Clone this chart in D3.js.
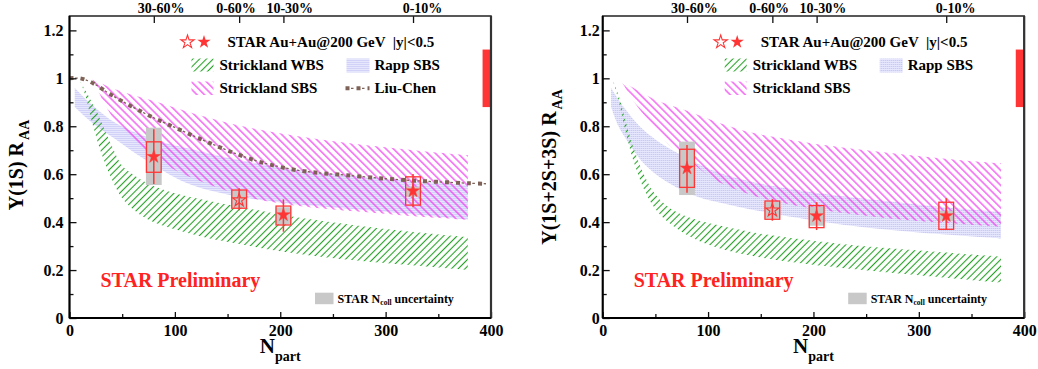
<!DOCTYPE html>
<html>
<head>
<meta charset="utf-8">
<script src="https://cdn.jsdelivr.net/npm/d3@7"></script>
<style>
  body { margin: 0; background: #fff; }
  text { font-family: "Liberation Serif", "Times New Roman", serif; font-weight: bold; }
</style>
</head>
<body>
<div id="chart"></div>
<script>
// ---- data ----
var nPart = [80, 161, 203, 326];
var centClass = ["30-60%", "0-60%", "10-30%", "0-10%"];
var centLabelN = [87, 158, 209, 335];
var isOpen = [false, true, false, false];
var globalUnc = [0.88, 1.12];

// Upsilon(1S)
var raa1S = [0.673, 0.492, 0.430, 0.530];
var stat1S = [[0.559, 0.787], [0.450, 0.541], [0.360, 0.495], [0.462, 0.601]];
var sys1S = [[0.608, 0.735], [0.458, 0.534], [0.388, 0.467], [0.471, 0.589]];
var ncoll1S = [[0.555, 0.794], [0.460, 0.532], [0.390, 0.462], [0.506, 0.548]];

// Upsilon(1S+2S+3S)
var raaAll = [0.625, 0.450, 0.426, 0.426];
var statAll = [[0.523, 0.722], [0.406, 0.496], [0.367, 0.483], [0.367, 0.500]];
var sysAll = [[0.545, 0.704], [0.412, 0.488], [0.377, 0.469], [0.370, 0.483]];
var ncollAll = [[0.513, 0.736], [0.415, 0.485], [0.385, 0.464], [0.405, 0.447]];

// model bands, [Npart, RAA]
var rapp1SUp = [[5,0.96],[20,0.895],[45,0.81],[80,0.745],[115,0.705],[160,0.66],[220,0.615],[280,0.588],[330,0.57],[378,0.556]];
var rapp1SLo = [[5,0.88],[20,0.82],[44,0.745],[72,0.66],[110,0.565],[150,0.515],[200,0.482],[240,0.465],[300,0.443],[378,0.41]];
var wbs1SUp = [[10,0.99],[15,0.95],[20,0.91],[25,0.87],[30,0.82],[40,0.72],[50,0.635],[60,0.60],[75,0.56],[100,0.52],[130,0.49],[160,0.465],[200,0.432],[240,0.405],[280,0.382],[320,0.362],[378,0.337]];
var wbs1SLo = [[10,0.99],[15,0.93],[20,0.84],[25,0.76],[30,0.69],[40,0.58],[50,0.50],[60,0.455],[75,0.41],[100,0.37],[130,0.335],[160,0.31],[200,0.278],[240,0.255],[280,0.237],[320,0.222],[378,0.20]];
var sbs1SUp = [[22,0.995],[40,0.96],[60,0.93],[80,0.905],[100,0.877],[120,0.85],[150,0.815],[180,0.786],[220,0.756],[260,0.732],[300,0.712],[340,0.694],[378,0.68]];
var sbs1SLo = [[22,0.995],[35,0.88],[45,0.81],[60,0.74],[80,0.672],[100,0.618],[120,0.578],[140,0.545],[165,0.508],[200,0.478],[240,0.457],[280,0.442],[320,0.427],[378,0.41]];
var liuChen = [[0,1.0],[10,1.0],[20,0.985],[40,0.93],[60,0.88],[80,0.835],[100,0.795],[120,0.755],[140,0.717],[160,0.682],[180,0.652],[200,0.63],[220,0.614],[240,0.604],[260,0.597],[280,0.589],[300,0.581],[320,0.575],[340,0.57],[360,0.566],[380,0.562],[397,0.56]];

var rappAllUp = [[8,0.96],[20,0.88],[35,0.80],[50,0.745],[70,0.69],[90,0.645],[110,0.607],[140,0.57],[180,0.537],[220,0.512],[260,0.492],[300,0.473],[340,0.456],[378,0.443]];
var rappAllLo = [[8,0.88],[15,0.80],[27,0.715],[40,0.64],[58,0.576],[90,0.506],[115,0.478],[150,0.445],[200,0.407],[240,0.383],[300,0.357],[378,0.332]];
var wbsAllUp = [[9,1.0],[15,0.93],[20,0.85],[25,0.77],[30,0.70],[40,0.59],[50,0.515],[65,0.455],[85,0.415],[110,0.387],[150,0.352],[200,0.322],[240,0.303],[300,0.282],[378,0.256]];
var wbsAllLo = [[9,1.0],[15,0.91],[20,0.81],[25,0.72],[30,0.645],[40,0.53],[50,0.455],[65,0.39],[85,0.335],[110,0.292],[150,0.252],[200,0.222],[240,0.203],[300,0.178],[378,0.147]];
var sbsAllUp = [[17,0.995],[30,0.957],[50,0.91],[80,0.865],[110,0.815],[140,0.775],[180,0.742],[210,0.722],[250,0.70],[300,0.676],[340,0.658],[378,0.645]];
var sbsAllLo = [[17,0.995],[30,0.90],[50,0.79],[66,0.71],[80,0.665],[105,0.58],[130,0.53],[160,0.49],[200,0.456],[240,0.432],[280,0.412],[330,0.395],[378,0.38]];

var yTicks = [0, 0.2, 0.4, 0.6, 0.8, 1, 1.2];
var yMinor = [0.1, 0.3, 0.5, 0.7, 0.9, 1.1];
var xTicks = [0, 100, 200, 300, 400];
var xMinor = [50, 150, 250, 350];

var red = "#ff3535";
var brown = "#7f6257";
var svg = d3.select("#chart").append("svg").attr("width", 1038).attr("height", 369);

// hatch patterns
var defs = svg.append("defs");
function hatch(id, angle, gap, color) {
  var p = defs.append("pattern").attr("id", id)
    .attr("patternUnits", "userSpaceOnUse")
    .attr("width", gap).attr("height", gap)
    .attr("patternTransform", "rotate(" + angle + ")");
  p.append("line").attr("x1", gap / 2).attr("y1", 0).attr("x2", gap / 2).attr("y2", gap)
    .attr("stroke", color).attr("stroke-width", 1.1);
}
hatch("wbs", 45, 4.8, "#25a025");
hatch("sbs", -45, 5.3, "#f030f0");
var rp = defs.append("pattern").attr("id", "rapp").attr("patternUnits", "userSpaceOnUse")
  .attr("width", 2).attr("height", 2);
rp.append("rect").attr("width", 2).attr("height", 2).attr("fill", "#e6e6fc");
rp.append("rect").attr("width", 1).attr("height", 1).attr("fill", "#bdbdf3");

function starPath(R) {
  var pts = [];
  for (var k = 0; k < 10; k++) {
    var a = -Math.PI / 2 + k * Math.PI / 5;
    var rr = k % 2 ? R * 0.382 : R;
    pts.push([rr * Math.cos(a), rr * Math.sin(a)]);
  }
  return "M" + pts.join("L") + "Z";
}

// Liu-Chen dash-dot: thin dashes plus square dots
function liuStyle(sel, thin) {
  if (thin) {
    sel.attr("stroke", brown).attr("stroke-width", 1.3).attr("stroke-dasharray", "0 5.5 2.5 3");
  } else {
    sel.attr("stroke", brown).attr("stroke-width", 4).attr("stroke-dasharray", "4 7");
  }
}

function drawPanel(p) {
  var width = 421.5, height = 302;
  var g = svg.append("g").attr("transform", "translate(" + p.left + ",16)");
  var x = d3.scaleLinear().domain([0, 400]).range([0, width]);
  var y = d3.scaleLinear().domain([0, 1.26]).range([height, 0]);

  var line = d3.line().x(function(d) { return x(d[0]); }).y(function(d) { return y(d[1]); })
    .curve(d3.curveCatmullRom);
  function band(up, lo) {
    return line(up) + "L" + line(lo.slice().reverse()).slice(1) + "Z";
  }

  // model bands
  g.append("path").attr("d", band(p.rappUp, p.rappLo)).attr("fill", "url(#rapp)");
  g.append("path").attr("d", band(p.wbsUp, p.wbsLo)).attr("fill", "url(#wbs)");
  g.append("path").attr("d", band(p.sbsUp, p.sbsLo)).attr("fill", "url(#sbs)");

  if (p.liu) {
    g.append("path").attr("d", line(p.liu)).attr("fill", "none").call(liuStyle, true);
    g.append("path").attr("d", line(p.liu)).attr("fill", "none").call(liuStyle, false);
  }

  // global uncertainty bar
  g.append("rect").attr("x", x(392)).attr("width", x(400) - x(392))
    .attr("y", y(globalUnc[1])).attr("height", y(globalUnc[0]) - y(globalUnc[1]))
    .attr("fill", red);

  // data points
  var pts = g.append("g");
  nPart.forEach(function(n, i) {
    pts.append("rect").attr("x", x(n - 7.5)).attr("width", x(15))
      .attr("y", y(p.ncoll[i][1])).attr("height", y(p.ncoll[i][0]) - y(p.ncoll[i][1]))
      .attr("fill", "#c8c8c8");
    pts.append("rect").attr("x", x(n - 7)).attr("width", x(14))
      .attr("y", y(p.sys[i][1])).attr("height", y(p.sys[i][0]) - y(p.sys[i][1]))
      .attr("fill", "none").attr("stroke", red).attr("stroke-width", 1.3);
    pts.append("line").attr("x1", x(n)).attr("x2", x(n))
      .attr("y1", y(p.stat[i][0])).attr("y2", y(p.stat[i][1]))
      .attr("stroke", red).attr("stroke-width", 1.5);
    pts.append("path").attr("d", starPath(7))
      .attr("transform", "translate(" + x(n) + "," + y(p.raa[i]) + ")")
      .attr("fill", isOpen[i] ? "none" : red)
      .attr("stroke", red).attr("stroke-width", isOpen[i] ? 1.1 : 0.5);
  });

  // axes
  function style(sel) {
    sel.attr("font-family", "Liberation Serif, serif").attr("font-weight", "bold");
    sel.select(".domain").remove();
    sel.selectAll("line").attr("stroke", "#111").attr("stroke-width", 1.3);
  }
  g.append("g").call(d3.axisLeft(y).tickValues(yTicks).tickSizeInner(-7).tickSizeOuter(0)
      .tickPadding(p.yPad).tickFormat(function(d) { return String(+d.toFixed(1)); }))
    .call(style).attr("font-size", 16);
  g.append("g").call(d3.axisLeft(y).tickValues(yMinor).tickSizeInner(-4).tickSizeOuter(0).tickFormat(""))
    .call(style);
  g.append("g").attr("transform", "translate(0," + height + ")")
    .call(d3.axisBottom(x).tickValues(xTicks).tickSizeInner(-6).tickSizeOuter(0).tickPadding(7))
    .call(style).attr("font-size", 16);
  g.append("g").attr("transform", "translate(0," + height + ")")
    .call(d3.axisBottom(x).tickValues(xMinor).tickSizeInner(-4).tickSizeOuter(0).tickFormat(""))
    .call(style);
  g.append("g").call(d3.axisTop(x).tickValues(nPart).tickSizeInner(-7).tickSizeOuter(0).tickFormat(""))
    .call(style);

  // frame
  g.append("rect").attr("width", width).attr("height", height)
    .attr("fill", "none").attr("stroke", "#222").attr("stroke-width", 1.5);
  g.append("line").attr("x1", width).attr("x2", width).attr("y1", 0).attr("y2", height)
    .attr("stroke", "#333").attr("stroke-width", 2.2);
  g.append("line").attr("x1", 0).attr("x2", 0).attr("y1", 0).attr("y2", height)
    .attr("stroke", "#000").attr("stroke-width", 2);
  g.append("line").attr("x1", 0).attr("x2", width).attr("y1", height).attr("y2", height)
    .attr("stroke", "#000").attr("stroke-width", 2);

  // centrality labels on top
  centClass.forEach(function(c, i) {
    g.append("text").attr("x", x(centLabelN[i])).attr("y", -3)
      .attr("text-anchor", "middle").attr("font-size", 14).text(c);
  });

  // axis titles
  var yt = g.append("text").attr("transform", "translate(-47," + p.ytY + ") rotate(-90)")
    .attr("text-anchor", "middle").attr("font-size", 20);
  yt.append("tspan").text(p.yTitle);
  yt.append("tspan").attr("font-size", 14).attr("dx", 2).attr("dy", 6).text("AA");

  var xt = g.append("text").attr("x", width / 2).attr("y", 337)
    .attr("text-anchor", "middle").attr("font-size", 21);
  xt.append("tspan").text("N");
  xt.append("tspan").attr("font-size", 14).attr("dy", 8).text("part");

  // legend
  g.append("path").attr("d", starPath(7)).attr("transform", "translate(118,26)")
    .attr("fill", "none").attr("stroke", red).attr("stroke-width", 1.1);
  g.append("path").attr("d", starPath(7)).attr("transform", "translate(134.5,26)")
    .attr("fill", red);
  g.append("text").attr("x", 158).attr("y", 31).attr("font-size", 15)
    .style("white-space", "pre").text("STAR Au+Au@200 GeV  |y|<0.5");

  g.append("rect").attr("x", 122).attr("y", 42.5).attr("width", 22).attr("height", 13)
    .attr("fill", "url(#wbs)");
  g.append("text").attr("x", 150).attr("y", 54).attr("font-size", 15).text("Strickland WBS");
  g.append("rect").attr("x", 277).attr("y", 42.5).attr("width", 23).attr("height", 14)
    .attr("fill", "url(#rapp)");
  g.append("text").attr("x", 305).attr("y", 54).attr("font-size", 15).text("Rapp SBS");
  g.append("rect").attr("x", 122).attr("y", 65.5).attr("width", 22).attr("height", 13.5)
    .attr("fill", "url(#sbs)");
  g.append("text").attr("x", 150).attr("y", 77).attr("font-size", 15).text("Strickland SBS");
  if (p.liu) {
    g.append("line").attr("x1", 276).attr("x2", 300).attr("y1", 72.3).attr("y2", 72.3).call(liuStyle, true);
    g.append("line").attr("x1", 276).attr("x2", 300).attr("y1", 72.3).attr("y2", 72.3).call(liuStyle, false);
    g.append("text").attr("x", 305).attr("y", 77).attr("font-size", 15).text("Liu-Chen");
  }

  g.append("text").attr("x", 31).attr("y", 271).attr("font-size", 20)
    .attr("fill", "#ff2222").text("STAR Preliminary");

  g.append("rect").attr("x", 245.5).attr("y", 276.7).attr("width", 18.5).attr("height", 11.5)
    .attr("fill", "#c8c8c8");
  var nc = g.append("text").attr("x", 268).attr("y", 286.5).attr("font-size", 12);
  nc.append("tspan").text("STAR N");
  nc.append("tspan").attr("font-size", 7.5).attr("dy", 2).text("coll");
  nc.append("tspan").attr("dy", -2).style("white-space", "pre").text(" uncertainty");
}

drawPanel({
  left: 69.5, yPad: 6, ytY: 149, yTitle: "\u03A5(1S) R",
  raa: raa1S, stat: stat1S, sys: sys1S, ncoll: ncoll1S,
  rappUp: rapp1SUp, rappLo: rapp1SLo, wbsUp: wbs1SUp, wbsLo: wbs1SLo,
  sbsUp: sbs1SUp, sbsLo: sbs1SLo, liu: liuChen
});
drawPanel({
  left: 602.7, yPad: 3, ytY: 151, yTitle: "\u03A5(1S+2S+3S) R",
  raa: raaAll, stat: statAll, sys: sysAll, ncoll: ncollAll,
  rappUp: rappAllUp, rappLo: rappAllLo, wbsUp: wbsAllUp, wbsLo: wbsAllLo,
  sbsUp: sbsAllUp, sbsLo: sbsAllLo, liu: null
});
</script>
</body>
</html>
